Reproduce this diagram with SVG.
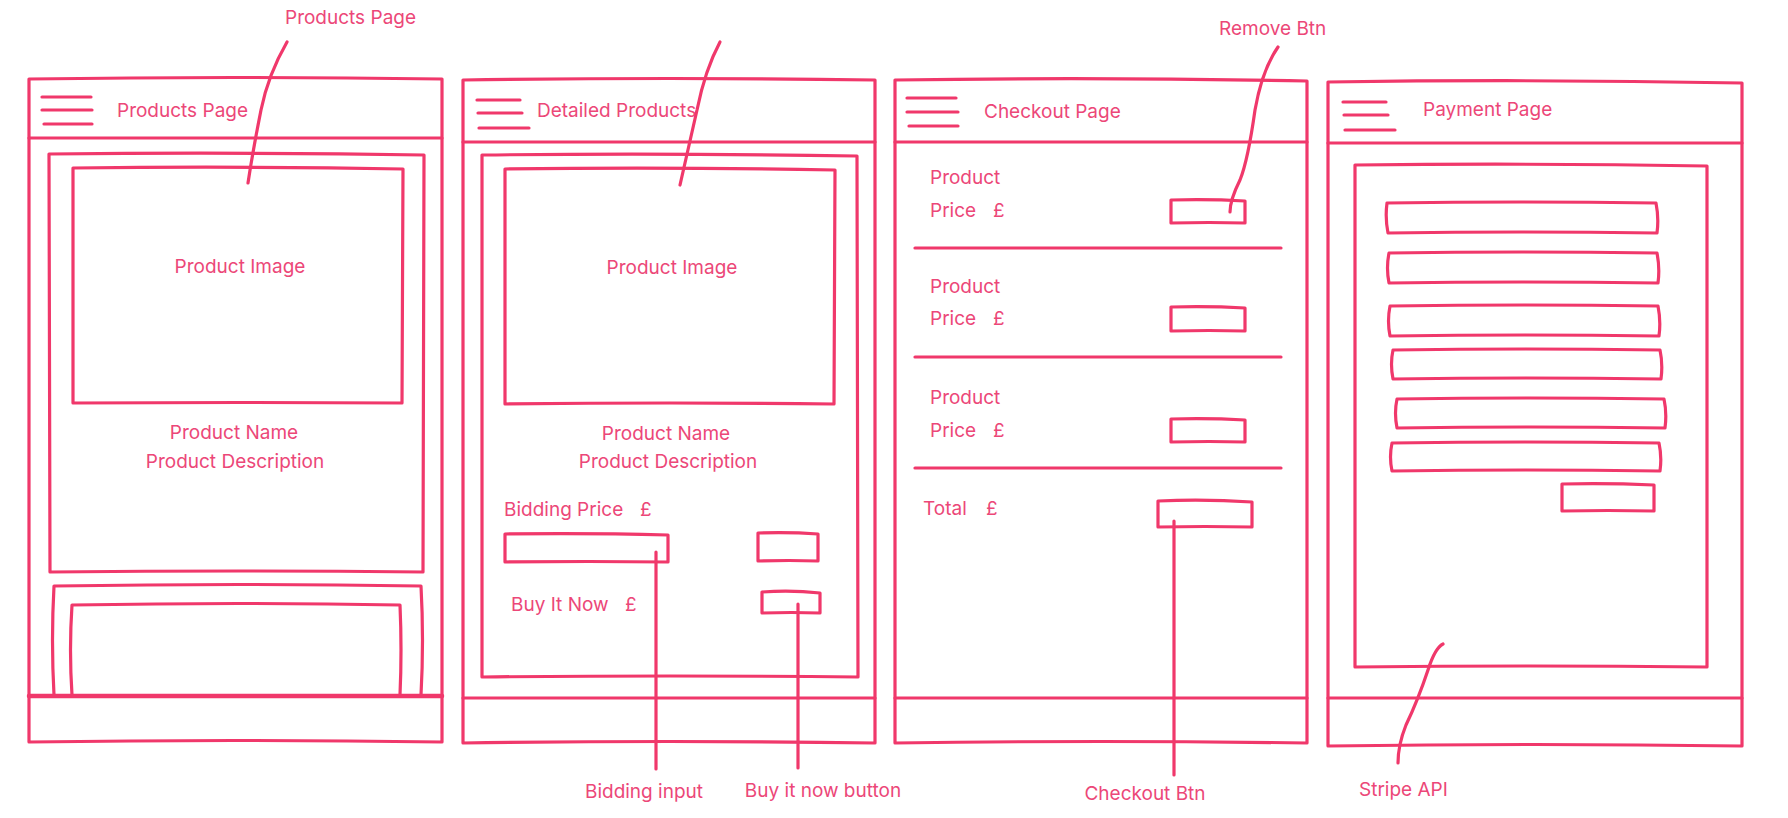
<svg xmlns="http://www.w3.org/2000/svg" width="1788" height="818" viewBox="0 0 1788 818">
<style>
.s{fill:none;stroke:#f0386b;stroke-width:3.2;stroke-linecap:round;stroke-linejoin:round}
.t{font-family:Inter,"Noto Sans","Liberation Sans",sans-serif;font-size:19px;fill:#ec4778}
.m{text-anchor:middle}
</style>
<rect width="1788" height="818" fill="#ffffff"/>

<g id="products-page">
  <path class="s" d="M29 79 Q230 76 442 79 L442 742 Q230 739 29 742 Z"/>
  <path class="s" d="M29 138 L442 138"/>
  <path class="s" d="M42 97 L91 97 M42 110 L92 110 M44 124 L92 124"/>
  <text class="t" x="117" y="117">Products Page</text>
  <path class="s" d="M49 154 Q240 152 424 155 L423 572 Q240 570 50 572 Z"/>
  <path class="s" d="M73 168 Q240 166 403 169 L402 403 Q240 402 73 403 Z"/>
  <text class="t m" x="240" y="273">Product Image</text>
  <text class="t m" x="234" y="439">Product Name</text>
  <text class="t m" x="235" y="468">Product Description</text>
  <path class="s" d="M54 695 Q51 640 54 586 Q240 583 421 586 Q424 640 421 695"/>
  <path class="s" d="M72 695 Q69 650 72 605 Q240 602 400 605 Q402 650 400 695"/>
  <path class="s" d="M29 696 L442 696" style="stroke-width:4.5"/>
</g>

<g id="detailed-products">
  <path class="s" d="M463 80 Q670 77 875 80 L875 743 Q670 740 463 743 Z"/>
  <path class="s" d="M463 142 L875 142"/>
  <path class="s" d="M477 100 L520 100 M478 113 L522 113 M479 128 L529 128"/>
  <text class="t" x="537" y="117">Detailed Products</text>
  <path class="s" d="M482 155 Q670 153 857 156 L858 677 Q670 675 482 677 Z"/>
  <path class="s" d="M505 169 Q670 167 835 170 L834 404 Q670 402 505 404 Z"/>
  <text class="t m" x="672" y="274">Product Image</text>
  <text class="t m" x="666" y="440">Product Name</text>
  <text class="t m" x="668" y="468">Product Description</text>
  <text class="t" x="504" y="516">Bidding Price</text>
  <text class="t" x="640" y="516">£</text>
  <path class="s" d="M505 534 Q590 533 668 535 L668 562 Q590 561 505 562 Z"/>
  <path class="s" d="M758 533 Q790 532 818 534 L818 561 Q790 560 758 561 Z"/>
  <text class="t" x="511" y="611">Buy It Now</text>
  <text class="t" x="625" y="611">£</text>
  <path class="s" d="M762 592 Q792 590 820 593 L820 613 Q792 612 762 613 Z"/>
  <path class="s" d="M463 698 L875 698"/>
</g>

<g id="checkout-page">
  <path class="s" d="M895 80 Q1100 77 1307 81 L1307 743 Q1100 740 895 743 Z"/>
  <path class="s" d="M895 142 L1307 142"/>
  <path class="s" d="M907 98 L956 98 M907 112 L958 112 M909 126 L958 126"/>
  <text class="t" x="984" y="118">Checkout Page</text>
  <text class="t" x="930" y="184">Product</text>
  <text class="t" x="930" y="217">Price</text>
  <text class="t" x="993" y="217">£</text>
  <path class="s" d="M1171 200 Q1210 199 1245 201 L1245 223 Q1210 222 1171 223 Z"/>
  <path class="s" d="M915 248 L1281 248"/>
  <text class="t" x="930" y="293">Product</text>
  <text class="t" x="930" y="325">Price</text>
  <text class="t" x="993" y="325">£</text>
  <path class="s" d="M1171 307 Q1210 306 1245 308 L1245 331 Q1210 330 1171 331 Z"/>
  <path class="s" d="M915 357 L1281 357"/>
  <text class="t" x="930" y="404">Product</text>
  <text class="t" x="930" y="437">Price</text>
  <text class="t" x="993" y="437">£</text>
  <path class="s" d="M1171 419 Q1210 418 1245 420 L1245 442 Q1210 441 1171 442 Z"/>
  <path class="s" d="M915 468 L1281 468"/>
  <text class="t" x="923" y="515">Total</text>
  <text class="t" x="986" y="515">£</text>
  <path class="s" d="M1158 501 Q1205 499 1252 502 L1252 527 Q1205 526 1158 527 Z"/>
  <path class="s" d="M895 698 L1307 698"/>
</g>

<g id="payment-page">
  <path class="s" d="M1328 82 Q1535 79 1742 83 L1742 746 Q1535 743 1328 746 Z"/>
  <path class="s" d="M1328 143 L1742 143"/>
  <path class="s" d="M1343 102 L1386 102 M1344 115 L1388 115 M1345 130 L1395 130"/>
  <text class="t" x="1423" y="116">Payment Page</text>
  <path class="s" d="M1355 165 Q1530 163 1707 166 L1707 667 Q1530 665 1355 667 Z"/>
  <path class="s" d="M1387 203 Q1520 201 1656 203 Q1659 218 1657 233 Q1520 231 1388 233 Q1385 218 1387 203 Z"/>
  <path class="s" d="M1389 253 Q1520 251 1657 253 Q1660 268 1658 283 Q1520 281 1389 283 Q1386 268 1389 253 Z"/>
  <path class="s" d="M1390 306 Q1525 304 1658 306 Q1661 321 1659 336 Q1525 334 1390 336 Q1387 321 1390 306 Z"/>
  <path class="s" d="M1393 350 Q1525 348 1660 350 Q1663 364 1661 379 Q1525 377 1393 379 Q1390 364 1393 350 Z"/>
  <path class="s" d="M1397 399 Q1530 397 1664 399 Q1667 413 1665 428 Q1530 426 1397 428 Q1394 413 1397 399 Z"/>
  <path class="s" d="M1392 443 Q1525 441 1659 443 Q1662 457 1660 471 Q1525 469 1392 471 Q1389 457 1392 443 Z"/>
  <path class="s" d="M1562 484 Q1608 483 1654 485 L1654 511 Q1608 510 1562 511 Z"/>
  <path class="s" d="M1328 698 L1742 698"/>
</g>

<g id="connectors">
  <path class="s" d="M287 42 Q268 75 261 110 Q253 150 248 183"/>
  <path class="s" d="M720 42 Q705 70 697 110 Q688 150 680 185"/>
  <path class="s" d="M1278 47 Q1262 70 1255 110 Q1248 160 1240 180 Q1230 200 1230 212"/>
  <path class="s" d="M656 552 L656 769"/>
  <path class="s" d="M798 604 L798 768"/>
  <path class="s" d="M1174 521 L1174 775"/>
  <path class="s" d="M1443 644 Q1435 648 1428 670 Q1418 700 1406 725 Q1398 745 1398 763"/>
</g>

<g id="labels">
  <text class="t" x="285" y="24">Products Page</text>
  <text class="t" x="1219" y="35">Remove Btn</text>
  <text class="t m" x="644" y="798">Bidding input</text>
  <text class="t m" x="823" y="797">Buy it now button</text>
  <text class="t m" x="1145" y="800">Checkout Btn</text>
  <text class="t" x="1359" y="796">Stripe API</text>
</g>
</svg>
